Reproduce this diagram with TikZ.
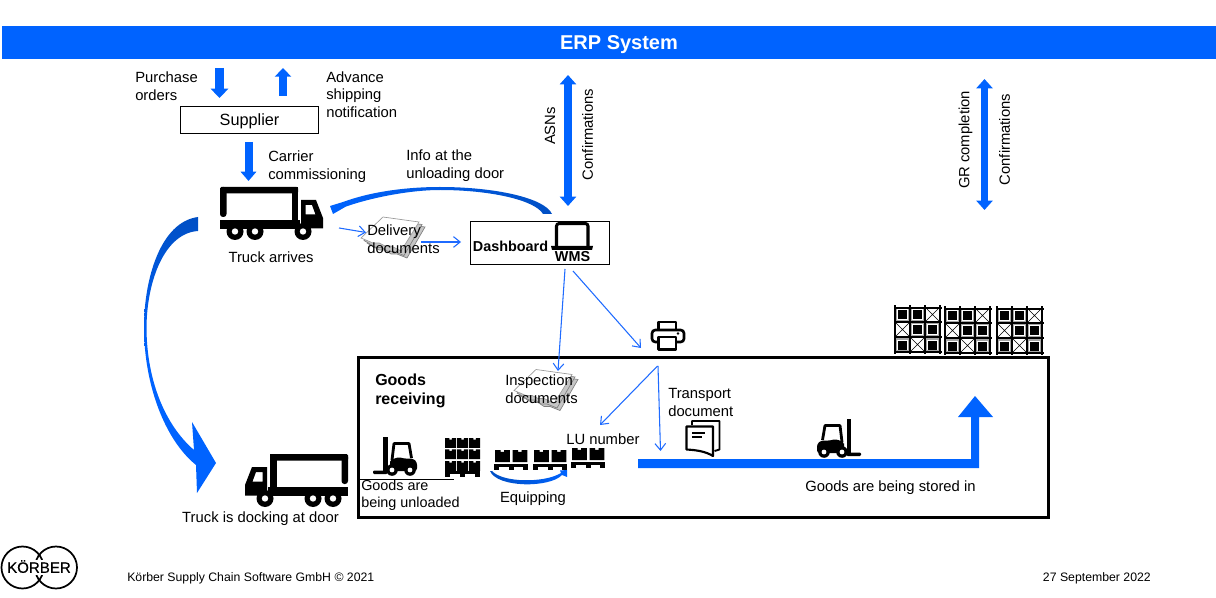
\documentclass[tikz,border=0pt]{standalone}
\usepackage{fontspec}
\setmainfont{Liberation Sans}
\newfontfamily\logofont[FakeBold=0.4]{Liberation Sans}
\usetikzlibrary{arrows.meta}
\definecolor{kblue}{HTML}{0063FF}
\definecolor{kdark}{HTML}{004FC4}
\definecolor{kthin}{HTML}{1F6BFF}
\newcommand{\lbl}{\fontsize{11.1}{13.3}\selectfont}
\tikzset{
  txt/.style={inner sep=0pt,font=\lbl,align=left,text=black},
  txtl/.style={txt,anchor=west},
  boldtxt/.style={txtl,font=\fontsize{12}{14.2}\selectfont\bfseries},
  boxed/.style={draw=black,line width=0.75pt,minimum height=0pt},
  thinarrow/.style={draw=kthin,line width=0.8pt,-{Straight Barb[length=5pt,width=8pt]}},
  vertarrow/.style={draw=kblue,line width=6.4pt,-{Triangle[width=13pt,length=7pt]},shorten >=0pt},
  dblarrow/.style={draw=kblue,line width=5.4pt,{Triangle[width=12pt,length=7pt]}-{Triangle[width=12pt,length=7pt]}},
  pics/truck/.style={code={
    \fill[black,rounded corners=1pt] (0,0) rectangle (78,6.5);
    \fill[black,rounded corners=2.2pt] (0,0) rectangle (6.5,30);
    \fill[black] (71.5,0) rectangle (78,35);
    \fill[black] (0,33) rectangle (80,42);
    \fill[black,even odd rule] (81,13) -- (96,13) -- (103,31) -- (103,41.5) -- (81,41.5) -- cycle
       (85.5,18) -- (92,18) -- (95.5,27.5) -- (85.5,27.5) -- cycle;
    \foreach \wx in {15,35,83}{
      \fill[black] (\wx,44.5) circle (8.5);
      \fill[white] (\wx,44.5) circle (3.2);
    }
  }},
  pics/onebox/.style={code={
    \fill[black] (0,0) -- (5,0) -- (5,1.8) -- (8,1.8) -- (8,0) -- (13,0) -- (13,11) -- (0,11) -- cycle;
  }},
  pics/pallet/.style={code={
    \fill[black] (0,0) rectangle (34,3);
    \foreach \fx in {0,14.5,29}{\fill[black] (\fx,3) rectangle +(5,3);}
  }},
  pics/twobox/.style={code={
    \pic[xscale=1.14,yscale=1.1] at (1,0) {onebox};
    \pic[xscale=1.14,yscale=1.1] at (18.5,0) {onebox};
    \pic at (0,13.5) {pallet};
  }},
  pics/stack/.style={code={
    \foreach \ry in {0,11.3,23}{
      \foreach \rx in {0,12,24}{
        \pic[xscale=0.85,yscale=0.9] at (\rx,\ry) {onebox};
      }
    }
    \pic[xscale=1.03] at (0,33) {pallet};
  }},
  pics/forklift/.style={code={
    \fill[black] (10,0) rectangle (14.5,36);
    \fill[black,rounded corners=0.8pt] (0,33.5) rectangle (14.5,37);
    \draw[black,line width=2.1pt,line join=round] (19,23) -- (21,6.5) -- (36,6.5) -- (38.5,21);
    \fill[black,rounded corners=2pt] (17,27) -- (17,23) -- (26,20) -- (30,21.5) -- (40,21.5) -- (44,25) -- (44,34) -- (17,34) -- cycle;
    \foreach \wx in {19,37}{
      \fill[black] (\wx,33) circle (5.8);
      \fill[white] (\wx,33) circle (2.4);
    }
  }},
  pics/rack/.style={code={
    \foreach \cx/\cy in {0/0,1/0,1/1,2/1,0/2,2/2}{
      \fill[gray!70] (\cx*15+1,\cy*15+1) rectangle +(13,13);
      \fill[white] (\cx*15+2,\cy*15+2.5) rectangle +(11,10.5);
      \fill[black] (\cx*15+3,\cy*15+3.5) rectangle +(9,9);
    }
    \foreach \cx/\cy in {2/0,0/1,1/2}{
      \draw[black,line width=0.45pt] (\cx*15+1,\cy*15+1) -- +(13,13) (\cx*15+14,\cy*15+1) -- +(-13,13);
    }
    \foreach \vx in {0,15,30,45}{\draw[black,line width=1.4pt] (\vx,-1.5) -- (\vx,46.5);}
    \foreach \hy in {1,15,30,45}{\draw[black,line width=1.4pt] (-1,\hy) -- (46.5,\hy);}
  }},
  pics/docs/.style={code={
    \foreach \ox/\oy in {6/5,3/2.5}{
      \filldraw[fill=gray!45,draw=gray,line width=0.5pt,shift={(\ox,\oy)}]
        (22,0) -- (58,5) -- (40,36) -- (30,32) -- (24,32) -- (18,28) -- (12,28) -- (0,21) -- cycle;
    }
    \filldraw[fill=white,draw=gray!80,line width=0.5pt]
        (22,0) -- (58,5) -- (40,34) -- (30,29) -- (24,29) -- (18,26) -- (12,26) -- (0,21) -- cycle;
  }}
}
\begin{document}
\begin{tikzpicture}[x=0.75pt,y=-0.75pt]
\useasboundingbox (0,0) rectangle (1216,598);

% banner
\node[fill=kblue,minimum width=910.5pt,minimum height=24.75pt,inner sep=0pt,anchor=north west] (erp) at (2,26) {};
\node[inner sep=0pt,text=white,font=\fontsize{15}{18}\selectfont\bfseries] (erptxt) at (619,45) {ERP System};

% supplier
\node[boxed,minimum width=103.5pt,minimum height=20.5pt,inner sep=0pt,text height=8.8pt,text depth=0pt,font=\fontsize{12.2}{14}\selectfont] (supplier) at (249.5,120) {Supplier};
\coordinate (poA) at (219.5,68); \coordinate (poB) at (219.5,98);
\coordinate (asA) at (283,96);   \coordinate (asB) at (283,68);
\coordinate (caA) at (248.5,142);\coordinate (caB) at (248.5,181);
\draw[vertarrow] (poA) -- (poB);
\draw[vertarrow,line width=6pt,-{Triangle[width=12pt,length=6.5pt]}] (asA) -- (asB);
\draw[vertarrow,line width=6pt,-{Triangle[width=11.5pt,length=7pt]}] (caA) -- (caB);

\node[txtl] (purchase) at (135,86) {Purchase\\orders};
\node[txtl] (advance) at (326,94.5) {Advance\\shipping\\notification};
\node[txtl] (carrier) at (268,167) {Carrier\\commissioning};
\node[txtl] (info) at (406,166) {Info at the\\unloading door};

% ERP links
\coordinate (erpL1) at (568,75); \coordinate (erpL2) at (568,206);
\coordinate (erpR1) at (984.5,79); \coordinate (erpR2) at (984.5,210);
\draw[dblarrow] (erpL1) -- (erpL2);
\draw[dblarrow] (erpR1) -- (erpR2);
\node[txt,rotate=90] (asns) at (550,126) {ASNs};
\node[txt,rotate=90] (conf1) at (587.5,134.5) {Confirmations};
\node[txt,rotate=90] (grc) at (965.5,140) {GR completion};
\node[txt,rotate=90] (conf2) at (1004.5,139.5) {Confirmations};

% trucks
\pic (truckA) at (220,187) {truck};
\pic[xscale=-1] (truckB) at (348,454) {truck};
\node[txt] (arrives) at (271,257) {Truck arrives};
\node[txt] (docking) at (260.5,518.5) {Truck is docking at door};

% info curve
\shade[left color=kblue,right color=kdark]
  (552,214) .. controls (545,198) and (495,187) .. (440,187)
  .. controls (405,187) and (370,192) .. (343,202)
  -- (330,206) -- (333,214) -- (346,206.5)
  .. controls (372,197.5) and (410,190) .. (440,190)
  .. controls (490,190) and (535,200) .. (543,214) -- cycle;

% big left curve
\shade[top color=kdark,bottom color=kblue,middle color=kblue]
  (198,217) .. controls (160,222) and (144,280) .. (144,327)
  .. controls (144,385) and (165,440) .. (196,465)
  -- (197,493) -- (216,463) -- (192,422) -- (194,450)
  .. controls (165,425) and (146.5,380) .. (146.5,327)
  .. controls (147,280) and (165,233) .. (198,231) -- cycle;

% docs
\pic (docA) at (361,217) {docs};
\pic (docB) at (514,369.5) {docs};
\node[txtl] (delivery) at (367,239) {Delivery\\documents};
\node[txtl] (inspect) at (505,389) {Inspection\\documents};

% dashboard
\node[boxed,minimum width=104.5pt,minimum height=32.5pt,inner sep=0pt] (dash) at (539.7,243) {};
\node[inner sep=0pt,font=\fontsize{10.8}{12}\selectfont\bfseries] (dashtxt) at (510.5,246) {Dashboard};
\node[inner sep=0pt,font=\fontsize{10.8}{12}\selectfont\bfseries] (wms) at (572.5,257) {WMS};
\draw[black,line width=2.3pt,rounded corners=2pt] (556.5,247) -- (556.5,223.5) -- (588,223.5) -- (588,247);
\fill[black] (551,246) -- (593,246) -- (592,250) -- (552,250) -- cycle;

% thin arrows
\coordinate (t1) at (339,228); \coordinate (t2) at (366,232.5);
\coordinate (d1) at (421,242); \coordinate (d2) at (461,242);
\coordinate (w1) at (565,269); \coordinate (w2) at (558,371);
\coordinate (w3) at (573,271); \coordinate (w4) at (641,348);
\coordinate (p1) at (657.5,366); \coordinate (p2) at (600,425);
\coordinate (p3) at (658,366); \coordinate (p4) at (660.5,451);
\draw[thinarrow] (t1) -- (t2);
\draw[thinarrow] (d1) -- (d2);
\draw[thinarrow] (w3) -- (w4);

% printer
\draw[black,line width=2pt,line join=round,fill=white] (658.5,331) -- (658.5,322) -- (676,322) -- (676,331);
\draw[black,line width=2pt,rounded corners=2.5pt] (658,342) -- (652,342) -- (652,330) -- (684,330) -- (684,342) -- (677,342);
\draw[black,line width=2pt,line join=round] (658.5,337) rectangle (676,349.5);
\fill[black] (678,333.5) circle (1.3);

% goods receiving box
\node[draw=black,line width=2.4pt,minimum width=517.5pt,minimum height=120.5pt,inner sep=0pt,anchor=north west] (gr) at (357,355.5) {};
\draw[thinarrow] (w1) -- (w2);
\draw[thinarrow] (p1) -- (p2);
\draw[thinarrow] (p3) -- (p4);

\node[boldtxt] (grt) at (375,390.5) {Goods\\receiving};
\pic (fl1) at (373,437) {forklift};
\pic (st1) at (445,438) {stack};
\pic (pa1) at (494,450) {twobox};
\pic (pa2) at (533,450) {twobox};
\pic (pa3) at (571,448) {twobox};
\coordinate (ul1) at (360,479.3); \coordinate (ul2) at (454,479.3);
\draw[black,line width=0.6pt] (ul1) -- (ul2);
\node[txtl,font=\fontsize{10.8}{13.1}\selectfont] (unload) at (361,495.5) {Goods are\\being unloaded};
\node[txt] (equip) at (533,498.5) {Equipping};
\node[txtl] (lu) at (566,439) {LU number};
\node[txtl] (transport) at (668,402.5) {Transport\\document};
\node[txtl] (stored) at (805,488) {Goods are being stored in};

% equipping curve
\shade[left color=kdark,right color=kblue]
  (490,471) .. controls (497,488) and (550,488) .. (562,475)
  -- (567,477) -- (567,470) -- (560,470.5) -- (561,473)
  .. controls (545,483) and (503,483) .. (492,471) -- cycle;

% main flow arrow
\fill[kblue] (638,459) -- (971,459) -- (971,417) -- (958,417) -- (975,396) -- (993,417) -- (979,417) -- (979,468) -- (638,468) -- cycle;

% transport doc icon
\draw[black,line width=1.4pt,line join=round] (692,425) -- (692,421) -- (719.5,421) -- (719.5,449.5) -- (714.5,451);
\draw[black,line width=1.6pt,line join=round] (686.5,426.5) -- (713,426.5) -- (713,456) .. controls (705,451) and (695,450) .. (686.5,449.5) -- cycle;
\draw[black,line width=1.2pt] (692,433) -- (705,433) (692,437) -- (702,437);

% right forklift
\pic[xscale=-1] (fl2) at (861,419) {forklift};

% racks
\pic (r1) at (895,307) {rack};
\pic (r2) at (945,308) {rack};
\pic (r3) at (997,308) {rack};

% footer
\node[txtl,font=\fontsize{9.2}{11}\selectfont] (foot) at (127,578) {Körber Supply Chain Software GmbH © 2021};
\node[txt,anchor=east,font=\fontsize{9.2}{11}\selectfont] (date) at (1151,578) {27 September 2022};

% logo
\draw[black,line width=1.3pt] (22.5,567.5) circle (21);
\draw[black,line width=1.3pt] (56,567.5) circle (21);
\node[fill=white,inner xsep=0.5pt,inner ysep=1.5pt,text height=8pt,text depth=0pt,font=\fontsize{11.3}{13}\logofont] (koerber) at (39,567.5) {KÖRBER};
\end{tikzpicture}
\end{document}
